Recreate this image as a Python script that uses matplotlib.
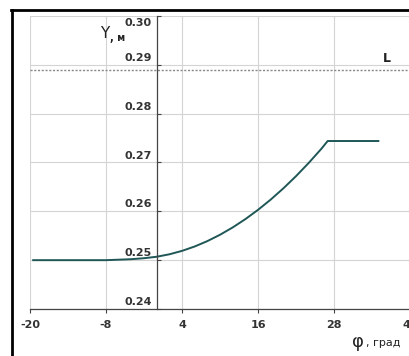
import numpy as np
import matplotlib
matplotlib.use("Agg")
from matplotlib import pyplot as plt
from matplotlib.lines import Line2D

# угол, град / перемещение Y, м
phi = [-19.5, -8, -4, -2, 0, 2, 4, 6, 8, 10, 12, 14, 16, 18, 20, 22, 24, 26, 27, 35]
y_m = [0.2500, 0.2500, 0.2502, 0.2504, 0.2507, 0.2512, 0.2519, 0.2528, 0.2539,
       0.2552, 0.2567, 0.2584, 0.2603, 0.2624, 0.2647, 0.2672, 0.2699, 0.2728,
       0.2744, 0.2744]
L_level = 0.2889

x_ticks = [-20, -8, 4, 16, 28, 40]
y_ticks = [0.24, 0.25, 0.26, 0.27, 0.28, 0.29, 0.30]

plt.rcParams['font.family'] = ['DejaVu Sans']

fig = plt.figure(figsize=(4.09, 3.56), dpi=100)
ax = fig.add_axes([30 / 409, 1 - 309 / 356, 380 / 409, 293 / 356])
ax.set_xlim(-20, 40)
ax.set_ylim(0.24, 0.30)

for s in ['top', 'right']:
    ax.spines[s].set_visible(False)
ax.spines['left'].set_position(('data', 0))
ax.spines['left'].set_color('#444444')
ax.spines['bottom'].set_color('#444444')
ax.spines['left'].set_linewidth(0.9)
ax.spines['bottom'].set_linewidth(0.9)

ax.set_xticks(x_ticks)
ax.set_yticks(y_ticks)
ax.set_xticklabels([str(v) for v in x_ticks], fontsize=8, fontweight='bold', color='#333333')
ax.set_yticklabels([])
ax.tick_params(axis='x', direction='out', length=3, color='#444444', pad=5)
ax.tick_params(axis='y', direction='in', length=3, color='#444444')
ax.grid(True, color='#d4d4d4', linewidth=0.8)

# подписи оси Y над линиями сетки
for v in y_ticks:
    if v < 0.295:
        ax.text(-0.8, v + 0.0004, f"{v:.2f}", ha='right', va='bottom',
                fontsize=8, fontweight='bold', color='#333333')
    else:
        ax.text(-0.8, v - 0.0004, f"{v:.2f}", ha='right', va='top',
                fontsize=8, fontweight='bold', color='#333333')

ax.axhline(L_level, color='#888888', linewidth=1.0, linestyle=(0, (1.5, 1.2)))
ax.plot(phi, y_m, color='#1f5656', linewidth=1.4)

fig.text(100 / 409, 1 - 33 / 356, "Y", fontsize=11, color='#222222', va='center')
fig.text(110 / 409, 1 - 38 / 356, ", м", fontsize=7, fontweight='bold', color='#222222', va='center')
fig.text(383 / 409, 1 - 58 / 356, "L", fontsize=9, fontweight='bold', color='#222222', va='center')
fig.text(352 / 409, 1 - 342 / 356, "φ", fontsize=13, color='#222222', va='center')
fig.text(366 / 409, 1 - 343 / 356, ", град", fontsize=8, color='#222222', va='center')

# рамка
fig.add_artist(Line2D([12 / 409, 12 / 409], [0, 1 - 10 / 356], color='black', linewidth=2))
fig.add_artist(Line2D([11 / 409, 1], [1 - 10 / 356, 1 - 10 / 356], color='black', linewidth=2))

fig.savefig("out.png", dpi=100)
